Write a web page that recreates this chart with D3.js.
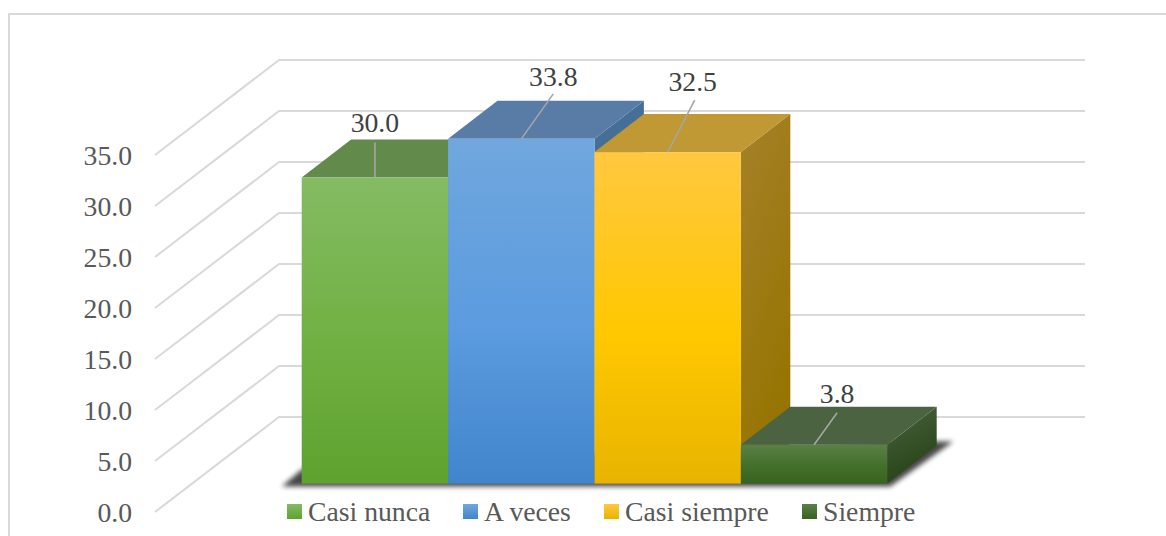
<!DOCTYPE html>
<html><head><meta charset="utf-8">
<script src="https://cdn.jsdelivr.net/npm/d3@7"></script>
<style>html,body{margin:0;padding:0;background:#fff;overflow:hidden}svg{display:block}
text{font-family:"Liberation Serif","Times New Roman",serif}</style></head>
<body><div id="chart"></div>
<script>
const categories = ["Casi nunca","A veces","Casi siempre","Siempre"];
const values = [30.0,33.8,32.5,3.8];
const labels = ["30.0","33.8","32.5","3.8"];
const tickValues = [0,5,10,15,20,25,30,35];
const frontTop = ["#84bb63","#70a7de","#ffc840","#5a8048"];
const frontMid = ["#70b042","#5b9bdf","#ffc800","#42702a"];
const frontBottom = ["#5fa22f","#4285cb","#e8b400","#38621f"];
const topColors = ["#628a4a","#587ca6","#c09834","#4b6340"];
const sideTop = ["#4a7a2a","#466f97","#a6812a","#4a6340"];
const sideBottom = ["#4a7a2a","#466f97","#957400","#264316"];
const labelOffsets = [[0,-54],[32,-62],[25,-70],[23,-51]];
const leaderEnds = [[0,-35],[32,-45],[27,-52],[23,-32]];

const W=1166,H=536;
const svg=d3.select("#chart").append("svg").attr("width",W).attr("height",H);
const defs=svg.append("defs");
const blur=defs.append("filter").attr("id","blur").attr("x","-10%").attr("y","-50%").attr("width","120%").attr("height","200%");
blur.append("feGaussianBlur").attr("stdDeviation",2.6);
categories.forEach((c,i)=>{
  const g=defs.append("linearGradient").attr("id","g"+i).attr("x1",0).attr("x2",0).attr("y1",0).attr("y2",1);
  g.append("stop").attr("offset","0%").attr("stop-color",frontTop[i]);
  g.append("stop").attr("offset","55%").attr("stop-color",frontMid[i]);
  g.append("stop").attr("offset","100%").attr("stop-color",frontBottom[i]);
  const l=defs.append("linearGradient").attr("id","l"+i).attr("x1",0).attr("x2",0).attr("y1",0).attr("y2",1);
  l.append("stop").attr("offset","0%").attr("stop-color",frontTop[i]);
  l.append("stop").attr("offset","100%").attr("stop-color",frontBottom[i]);
  const s=defs.append("linearGradient").attr("id","s"+i).attr("x1",0).attr("x2",0.35).attr("y1",0).attr("y2",1);
  s.append("stop").attr("offset","0%").attr("stop-color",sideTop[i]);
  s.append("stop").attr("offset","100%").attr("stop-color",sideBottom[i]);
});

// frame
svg.append("rect").attr("x",9).attr("y",14).attr("width",1180).attr("height",560)
  .attr("fill","#fff").attr("stroke","#d9d9d9").attr("stroke-width",2);

// scales: axis plane, back wall and bar front share one unit height
const yAxis=d3.scaleLinear().domain([0,35]).range([512,155]);
const wallDx=124, wallDy=-95;
const depthX=49.4, depthY=-38;
const barBase=483.6;
const yBar=d3.scaleLinear().domain([0,35]).range([barBase,barBase-357]);
const x=d3.scaleBand().domain(categories).range([301.7,887.3]).padding(0);

// grid
const grid=svg.append("g").attr("fill","none").attr("stroke","#d9d9d9").attr("stroke-width",2);
grid.selectAll("path").data(tickValues).join("path")
  .attr("d",v=>{const y=yAxis(v);return `M155,${y}L${155+wallDx},${y+wallDy}H1085`;});

// axis labels
const ax=svg.append("g").attr("transform","translate(132,0.5)")
  .call(d3.axisLeft(yAxis).tickValues(tickValues).tickFormat(d3.format(".1f")).tickSize(0).tickPadding(0));
ax.select(".domain").remove();
ax.selectAll("text").attr("font-size",27.7).attr("fill","#595959")
  .attr("font-family","Liberation Serif").attr("dy","0.32em");

// floor shadow
svg.append("path").attr("filter","url(#blur)").attr("fill","#000").attr("opacity",.72)
  .attr("d",()=>{const l=x.range()[0],r=x.range()[1];
    return `M${l-20},${barBase+3}L${r+3},${barBase+3}L${r+66},${barBase-42}L${r+40},${barBase-42}L${l+20},${barBase-20}L${l},${barBase-14}Z`;});

// bars
const bars=svg.append("g").selectAll("g").data(categories).join("g");
bars.each(function(c,i){
  const g=d3.select(this), l=x(c), r=l+x.bandwidth(), t=yBar(values[i]), b=yBar(0);
  g.append("path").attr("fill",`url(#s${i})`)
    .attr("d",`M${r},${t}L${r+depthX},${t+depthY}V${b+depthY}L${r},${b}Z`);
  g.append("path").attr("fill",topColors[i])
    .attr("d",`M${l},${t}L${l+depthX},${t+depthY}H${r+depthX}L${r},${t}Z`);
  g.append("rect").attr("x",l).attr("y",t).attr("width",x.bandwidth()).attr("height",b-t)
    .attr("fill",`url(#g${i})`);
});

// leader lines + data labels
categories.forEach((c,i)=>{
  const cx=x(c)+x.bandwidth()/2, t=yBar(values[i]);
  const [ox,oy]=labelOffsets[i], [ex,ey]=leaderEnds[i];
  svg.append("line").attr("x1",cx).attr("y1",t).attr("x2",cx+ex).attr("y2",t+ey)
    .attr("stroke","#a6a6a6").attr("stroke-width",1.6);
  svg.append("text").attr("x",cx+ox).attr("y",t+oy).attr("dy","0.32em").attr("text-anchor","middle")
    .attr("font-size",27.7).attr("fill","#404040").text(labels[i]);
});

// legend
const legendX=[287,463,604,802];
const lg=svg.append("g").selectAll("g").data(categories).join("g")
  .attr("transform",(d,i)=>`translate(${legendX[i]},504)`);
lg.append("rect").attr("width",15).attr("height",15).attr("fill",(d,i)=>`url(#l${i})`);
lg.append("text").attr("x",21).attr("y",8).attr("dy","0.32em").attr("font-size",27.7).attr("fill","#595959").text(d=>d);
</script></body></html>
